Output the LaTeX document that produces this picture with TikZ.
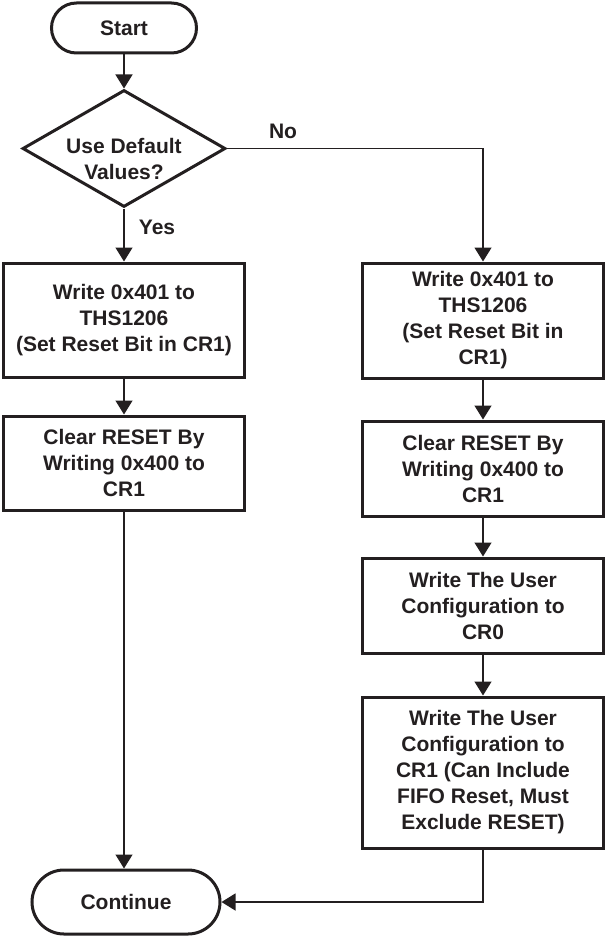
\documentclass[tikz,border=0pt]{standalone}
\usepackage{fontspec}
\setmainfont{Liberation Sans}
\usetikzlibrary{shapes.geometric,arrows.meta}
\definecolor{ink}{HTML}{231F20}
\begin{document}
\begin{tikzpicture}[x=1pt,y=-1pt,
  txt/.style={font=\fontsize{21}{26}\selectfont\bfseries, text=ink, align=center},
  procbox/.style={txt, draw=ink, line width=3pt, minimum width=241pt, inner sep=0pt, fill=white},
  term/.style={txt, draw=ink, line width=3pt, inner sep=0pt},
  decision/.style={draw=ink, line width=3pt, diamond, minimum width=203pt, minimum height=117pt, inner sep=0pt},
  conn/.style={draw=ink, line width=1.3pt, -{Triangle[width=17pt,length=14pt]}},
  plain/.style={draw=ink, line width=1.3pt}
]
\useasboundingbox (0,0) rectangle (605,936);
% terminals
\node[term, minimum width=145pt, minimum height=50pt, rounded corners=25pt] (start) at (124,28) {Start};
\node[term, minimum width=188pt, minimum height=64pt, rounded corners=32pt] (cont) at (126,902) {Continue};
% decision
\node[decision] (dec) at (124,148.5) {};
\node[txt] (dectext) at (124,158.5) {Use Default\\Values?};
% left column
\node[procbox, minimum height=114pt] (l1) at (124,320) {Write 0x401 to\\THS1206\\(Set Reset Bit in CR1)};
\node[procbox, minimum height=94pt] (l2) at (124,463) {Clear RESET By\\Writing 0x400 to\\CR1};
% right column
\node[procbox, minimum height=115pt] (r1) at (483,320.5) {Write 0x401 to\\THS1206\\(Set Reset Bit in\\CR1)};
\node[procbox, minimum height=95pt] (r2) at (483,468.5) {Clear RESET By\\Writing 0x400 to\\CR1};
\node[procbox, minimum height=95pt] (r3) at (483,605.5) {Write The User\\Configuration to\\CR0};
\node[procbox, minimum height=151pt] (r4) at (483,772.5) {Write The User\\Configuration to\\CR1 (Can Include\\FIFO Reset, Must\\Exclude RESET)};
% labels
\node[txt] (yes) at (157,227) {Yes};
\node[txt] (no) at (283,131) {No};
% connectors
\draw[conn] (start.south) -- (dec.north);
\draw[conn] (dec.south) -- (l1.north);
\draw[conn] (dec.east) -| (r1.north);
\draw[conn] (l1.south) -- (l2.north);
\draw[conn] (l2.south) -- (l2.south |- cont.north);
\draw[conn] (r1.south) -- (r2.north);
\draw[conn] (r2.south) -- (r3.north);
\draw[conn] (r3.south) -- (r4.north);
\draw[conn] (r4.south) |- (cont.east);
\end{tikzpicture}
\end{document}
